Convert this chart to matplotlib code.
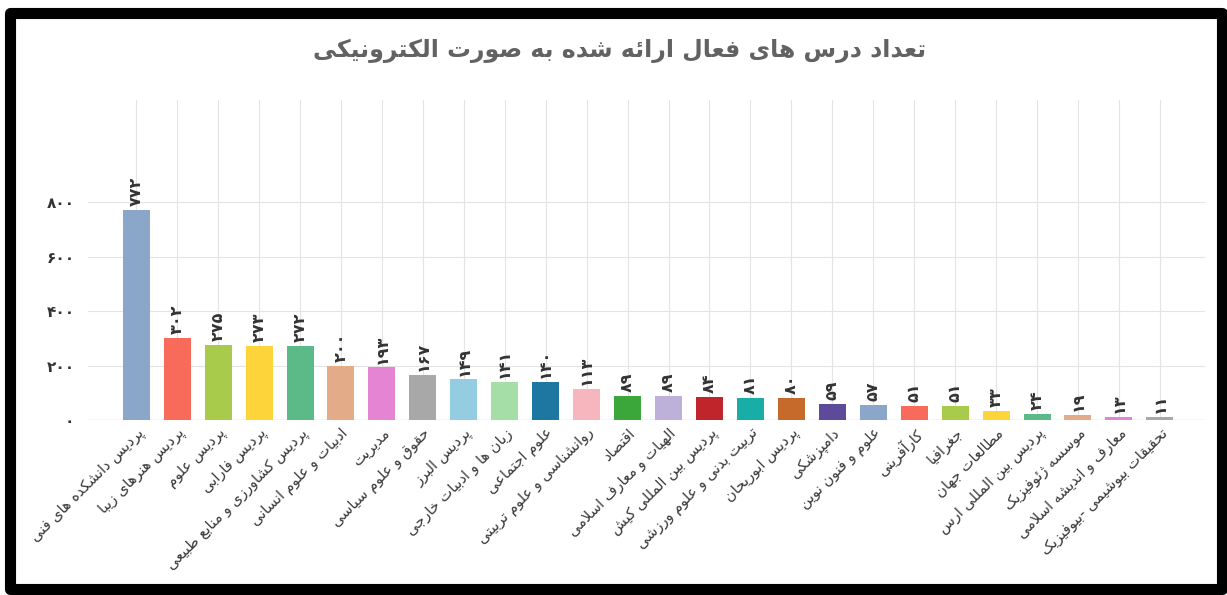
import matplotlib
matplotlib.use("Agg")
import matplotlib.pyplot as plt
from matplotlib.patches import Rectangle
import numpy as np

# chart data
title = "تعداد درس های فعال ارائه شده به صورت الکترونیکی"
faculties = [
    "پردیس دانشکده های فنی", "پردیس هنرهای زیبا", "پردیس علوم", "پردیس فارابی",
    "پردیس کشاورزی و منابع طبیعی", "ادبیات و علوم انسانی", "مدیریت",
    "حقوق و علوم سیاسی", "پردیس البرز", "زبان ها و ادبیات خارجی", "علوم اجتماعی",
    "روانشناسی و علوم تربیتی", "اقتصاد", "الهیات و معارف اسلامی",
    "پردیس بین المللی کیش", "تربیت بدنی و علوم ورزشی", "پردیس ابوریحان",
    "دامپزشکی", "علوم و فنون نوین", "کارآفرینی", "جغرافیا", "مطالعات جهان",
    "پردیس بین المللی ارس", "موسسه ژئوفیزیک", "معارف و اندیشه اسلامی",
    "تحقیقات بیوشیمی -بیوفیزیک",
]
courses = [772, 302, 275, 273, 272, 200, 193, 167, 149, 141, 140, 113, 89,
           89, 84, 81, 80, 59, 57, 51, 51, 33, 24, 19, 13, 11]
yticks = [0, 200, 400, 600, 800]
palette = ["#8aa6c8", "#f86a5a", "#a9cb4c", "#fdd53a", "#5cba88", "#e3ab87",
           "#e584d3", "#a8a8a8", "#94cde2", "#a5dea7", "#1e77a0", "#f7b5bd",
           "#3ba73b", "#bdb0d9", "#c0252b", "#18aea7", "#c56a2a", "#5d4a9a"]

# --- minimal persian shaping (matplotlib has no complex text layout) ---
DUAL = {
    'ب': 0xFE8F, 'ت': 0xFE95, 'ث': 0xFE99, 'ج': 0xFE9D, 'ح': 0xFEA1, 'خ': 0xFEA5,
    'س': 0xFEB1, 'ش': 0xFEB5, 'ص': 0xFEB9, 'ض': 0xFEBD, 'ط': 0xFEC1, 'ظ': 0xFEC5,
    'ع': 0xFEC9, 'غ': 0xFECD, 'ف': 0xFED1, 'ق': 0xFED5, 'ك': 0xFED9, 'ل': 0xFEDD,
    'م': 0xFEE1, 'ن': 0xFEE5, 'ه': 0xFEE9, 'ي': 0xFEF1, 'ئ': 0xFE89,
    'پ': 0xFB56, 'چ': 0xFB7A, 'ک': 0xFB8E, 'گ': 0xFB92, 'ی': 0xFBFC,
}
RIGHT = {
    'ا': 0xFE8D, 'آ': 0xFE81, 'أ': 0xFE83, 'إ': 0xFE87, 'ؤ': 0xFE85, 'د': 0xFEA9,
    'ذ': 0xFEAB, 'ر': 0xFEAD, 'ز': 0xFEAF, 'و': 0xFEED, 'ة': 0xFE93, 'ژ': 0xFB8A,
}
LAM_ALEF = {'ا': 0xFEFB, 'آ': 0xFEF5, 'أ': 0xFEF7, 'إ': 0xFEF9}


def fa(text):
    out = []
    n = len(text)
    i = 0
    while i < n:
        c = text[i]
        prev = text[i - 1] if i > 0 else ''
        link_prev = prev in DUAL and (c in DUAL or c in RIGHT)
        if c == 'ل' and i + 1 < n and text[i + 1] in LAM_ALEF:
            out.append(chr(LAM_ALEF[text[i + 1]] + (1 if link_prev else 0)))
            i += 2
            continue
        nxt = text[i + 1] if i + 1 < n else ''
        if c in DUAL:
            link_next = nxt in DUAL or nxt in RIGHT
            form = (1 if link_prev else 0) + (2 if link_next else 0)
            out.append(chr(DUAL[c] + form))
        elif c in RIGHT:
            out.append(chr(RIGHT[c] + (1 if link_prev else 0)))
        else:
            out.append(c)
        i += 1
    return ''.join(reversed(out))


def fa_num(v):
    return str(v).translate(str.maketrans("0123456789", "۰۱۲۳۴۵۶۷۸۹"))


plt.rcParams['font.family'] = ['DejaVu Sans']

fig = plt.figure(figsize=(12.27, 5.95), dpi=100)
ax = fig.add_axes([0.072, 0.294, 0.910, 0.538])

x = np.arange(len(courses))
colors = [palette[i % len(palette)] for i in range(len(courses))]
bars = ax.bar(x, courses, width=0.66, color=colors, zorder=3)

# value labels, rotated like the original
for xi, v in zip(x, courses):
    ax.text(xi, v + 14, fa_num(v), rotation=90, ha="center", va="bottom",
            fontsize=11.5, fontweight="bold", color="#333333", zorder=4)

ax.set_xlim(-1.17, len(courses) - 1 + 1.1)
ax.set_ylim(0, 1175)
ax.set_yticks(yticks)
ax.set_yticklabels([fa_num(t) for t in yticks], fontsize=11, fontweight="bold",
                   color="#333333")
ax.set_xticks(x)
ax.set_xticklabels([fa(f) for f in faculties], rotation=45, ha="right",
                   rotation_mode="anchor", fontsize=10.5, color="#3a3a3a")
ax.tick_params(length=0, pad=10)
ax.tick_params(axis="x", pad=4)

ax.grid(True, color="#e4e4e4", lw=0.8, zorder=0)
ax.set_axisbelow(True)
for s in ax.spines.values():
    s.set_visible(False)
ax.axhline(0, color="#d6d6d6", lw=1, zorder=2)

fig.text(0.505, 0.914, fa(title), ha="center", va="center", fontsize=17,
         fontweight="bold", color="#626262")

# black frame
frame = Rectangle((0.0078, 0.01), 0.988, 0.968, transform=fig.transFigure,
                  fill=False, ec="black", lw=8, joinstyle="round")
fig.patches.append(frame)

fig.savefig("out.png", dpi=100, facecolor="white")
